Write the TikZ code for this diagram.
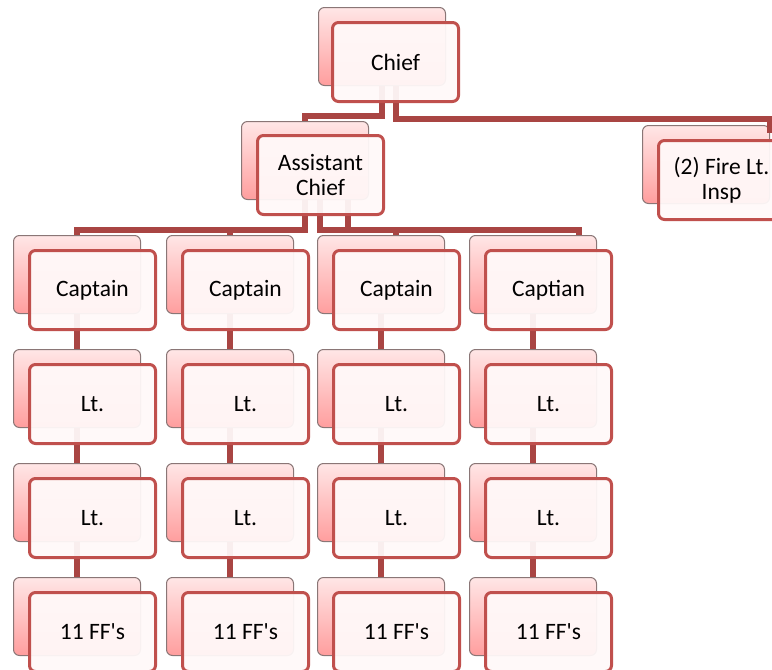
\documentclass[tikz,border=0pt]{standalone}
\usepackage{fontspec}
\setmainfont{Carlito}[Ligatures=TeXOff]
\definecolor{connc}{HTML}{A94543}
\definecolor{fedge}{HTML}{C0504D}
\definecolor{bedge}{HTML}{8A7676}
\definecolor{btop}{HTML}{FFE6E6}
\definecolor{bbot}{HTML}{FF9E9E}
\definecolor{ffill}{HTML}{FFF9F9}
\begin{document}
\begin{tikzpicture}[x=1pt,y=-1pt,
 backbox/.style={draw=bedge, line width=1pt, rounded corners=6pt, top color=btop, bottom color=bbot, minimum width=127pt, minimum height=78pt, anchor=north west, inner sep=0pt},
 frontbox/.style={draw=fedge, line width=3pt, rounded corners=6pt, fill=ffill, fill opacity=0.94, text opacity=1, minimum width=126pt, minimum height=79pt, anchor=north west, align=center, font=\fontsize{23.5}{25}\selectfont, inner sep=0pt},
 conn/.style={draw=connc, line width=5.5pt}]
\useasboundingbox (0,0) rectangle (772,670);
\clip (0,0) rectangle (772,670);
% back boxes
\node[backbox] (chiefB) at (318,7) {};
\node[backbox] (acB) at (241,121) {};
\node[backbox] (fireB) at (642,125) {};
\foreach \i/\x in {1/13,2/166,3/317,4/469} {
  \node[backbox] (c\i B) at (\x,235) {};
  \node[backbox] (la\i B) at (\x,349) {};
  \node[backbox] (lb\i B) at (\x,463) {};
  \node[backbox] (f\i B) at (\x,577) {};
}
% connectors
\coordinate (h1) at (0,116);
\coordinate (h2) at (0,119);
\coordinate (bar) at (0,230);
\coordinate (fireT) at (770,133);
\coordinate (chR) at ([xshift=14pt]chiefB.south);
\draw[conn] (chiefB.south) |- (acB.north |- h1) -- (acB.north);
\draw[conn] (chR) |- (fireT |- h2) -- (fireT);
\coordinate (acM) at ([xshift=15pt]acB.south);
\coordinate (acR) at ([xshift=43pt]acB.south);
\coordinate (t3) at ([xshift=15pt]c3B.north);
\coordinate (t4) at ([xshift=46pt]c4B.north);
\draw[conn] (acB.south) |- (c1B.north |- bar) -- (c1B.north);
\draw[conn] (acB.south) |- (c2B.north |- bar) -- (c2B.north);
\draw[conn] (acM) |- (t3 |- bar) -- (t3);
\draw[conn] (acR) |- (t4 |- bar) -- (t4);
\foreach \i in {1,2,3,4} {
  \draw[conn] (c\i B.south) -- (la\i B.north);
  \draw[conn] (la\i B.south) -- (lb\i B.north);
  \draw[conn] (lb\i B.south) -- (f\i B.north);
}
% front boxes
\node[frontbox] (chief) at (331,21) {Chief};
\node[frontbox] (ac) at (256,134) {Assistant\\Chief};
\node[frontbox] (fire) at (657,139) {(2) Fire Lt.\\Insp};
\foreach \i/\x/\t in {1/28/Captain,2/181/Captain,3/332/Captain,4/484/Captian} {
  \node[frontbox] (c\i) at (\x,249) {\t};
  \node[frontbox] (la\i) at (\x,363) {Lt.};
  \node[frontbox] (lb\i) at (\x,477) {Lt.};
  \node[frontbox] (f\i) at (\x,591) {11 FF's};
}
\end{tikzpicture}
\end{document}
